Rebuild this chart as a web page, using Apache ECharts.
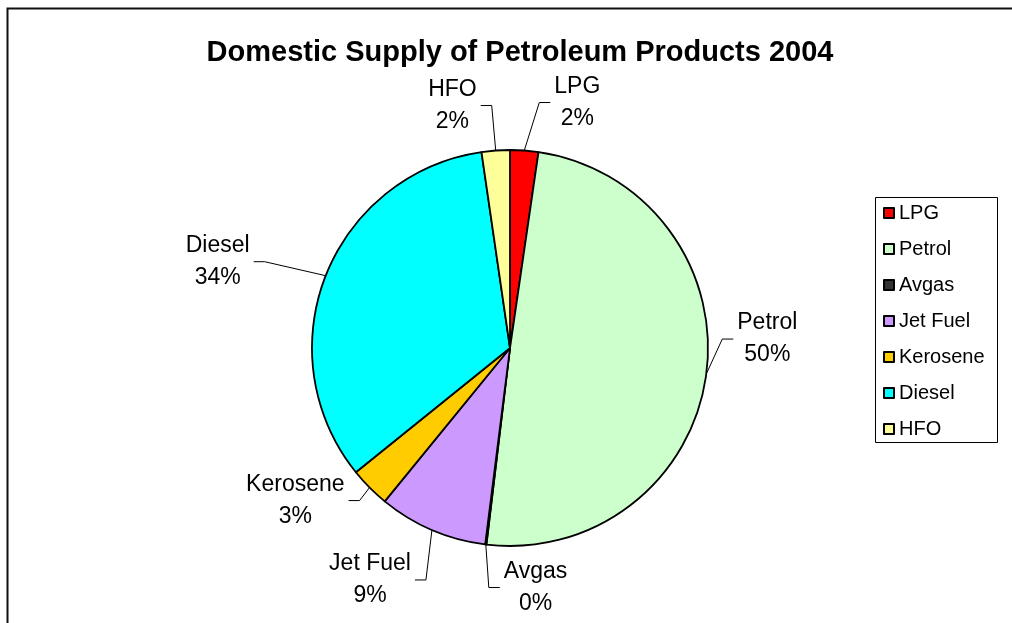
<!DOCTYPE html>
<html>
<head>
<meta charset="utf-8">
<script src="https://cdn.jsdelivr.net/npm/echarts@6/dist/echarts.min.js"></script>
<style>
  html, body { margin: 0; padding: 0; background: #fff; }
  #chart { width: 1012px; height: 623px; }
</style>
</head>
<body>
<div id="chart"></div>
<script>
const products = ["LPG", "Petrol", "Avgas", "Jet Fuel", "Kerosene", "Diesel", "HFO"];
const shares = [2.3, 49.6, 0.1, 8.9, 3.3, 33.5, 2.3];
const colors = ["#ff0000", "#ccffcc", "#333333", "#cc99ff", "#ffcc00", "#00ffff", "#ffff99"];
// where each leader line bends, relative to the point where it leaves the slice
const elbowShift = [[15, -48], [16, -35], [3, 43], [-6, 50], [-10, 13], [-61, -14], [-4, -45]];

const chart = echarts.init(document.getElementById("chart"));
const font = "Arial, 'Liberation Sans', sans-serif";

chart.setOption({
  animation: false,
  title: {
    text: "Domestic Supply of Petroleum Products 2004",
    left: 515,
    textAlign: "center",
    top: 33,
    textStyle: { fontFamily: font, fontSize: 29, fontWeight: "bold", color: "#000" }
  },
  graphic: [
    { type: "rect", shape: { x: 7.5, y: 8.5, width: 1100, height: 700 },
      style: { fill: null, stroke: "#111", lineWidth: 2 } },
    { type: "rect", shape: { x: 875.5, y: 197.5, width: 122, height: 245 },
      style: { fill: "#fff", stroke: "#000", lineWidth: 1 }, z: -1 }
  ],
  legend: {
    orient: "vertical",
    left: 883,
    top: 203,
    padding: 0,
    icon: "rect",
    itemWidth: 10,
    itemHeight: 10,
    itemGap: 16,
    itemTextGap: 9,
    textStyle: { fontFamily: font, fontSize: 20, color: "#000", lineHeight: 20 },
    data: products
  },
  series: [{
    type: "pie",
    center: [510, 348],
    radius: 198,
    startAngle: 90,
    clockwise: true,
    percentPrecision: 0,
    avoidLabelOverlap: false,
    data: products.map((p, i) => ({ name: p, value: shares[i], itemStyle: { color: colors[i] } })),
    itemStyle: { borderColor: "#000", borderWidth: 1.8 },
    label: {
      show: true,
      position: "outside",
      formatter: "{t|{b}}\n{t|{d}%}",
      rich: { t: { fontFamily: font, fontSize: 23, color: "#000", align: "center", lineHeight: 32 } }
    },
    labelLine: { show: true, length: 20, length2: 10, lineStyle: { color: "#000", width: 1 } },
    labelLayout: function (params) {
      const s = elbowShift[params.dataIndex];
      const p0 = params.labelLinePoints[0];
      const left = s[0] < 0;
      const elbow = [p0[0] + s[0], p0[1] + s[1]];
      const end = [elbow[0] + (left ? -11 : 11), elbow[1]];
      return {
        x: end[0] + (left ? -4 : 4),
        y: end[1],
        align: left ? "right" : "left",
        verticalAlign: "middle",
        labelLinePoints: [p0, elbow, end]
      };
    },
    emphasis: { disabled: true }
  }]
});
</script>
</body>
</html>
